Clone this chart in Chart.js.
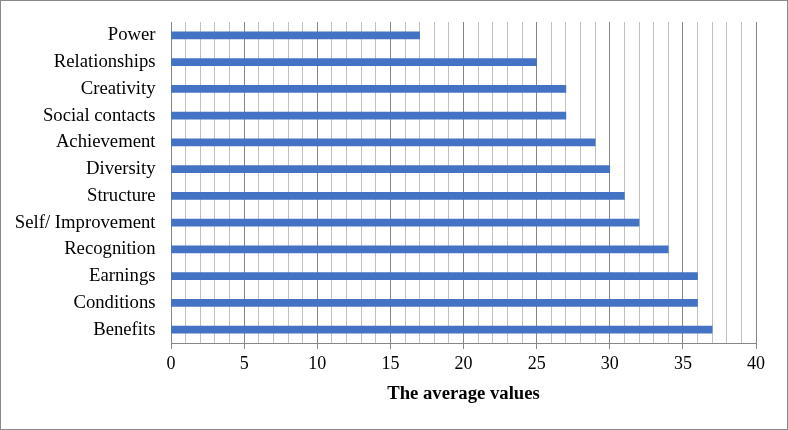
<!DOCTYPE html>
<html><head><meta charset="utf-8">
<script src="https://cdn.jsdelivr.net/npm/chart.js@4"></script>
<style>html,body{margin:0;padding:0;background:#fff}#wrap{width:788px;height:430px;position:relative}</style>
</head><body><div id="wrap"><canvas id="c" width="788" height="430"></canvas></div>
<script>
const categories = ["Power","Relationships","Creativity","Social contacts","Achievement","Diversity","Structure","Self/ Improvement","Recognition","Earnings","Conditions","Benefits"];
const values = [17,25,27,27,29,30,31,32,34,36,36,37];
const xMin = 0, xMax = 40, xStep = 1, labelEvery = 5;
const xTitle = "The average values";

const borderPlugin = {
  id:'outerBorder',
  beforeDraw(chart){
    const ctx = chart.ctx;
    ctx.save();
    ctx.fillStyle='#fff';ctx.fillRect(0,0,chart.width,chart.height);
    ctx.strokeStyle='#898989';ctx.lineWidth=1;
    ctx.strokeRect(0.5,0.5,chart.width-1,chart.height-1);
    ctx.restore();
  }
};
const fam = "'Liberation Serif','Times New Roman',serif";
const tickFont = {family:fam, size:18};
const catFont = {family:fam, size:18.7};
new Chart(document.getElementById('c'),{
  type:'bar',
  data:{labels:categories,datasets:[{data:values,backgroundColor:'#4472C4',barThickness:7}]},
  options:{
    indexAxis:'y',responsive:false,animation:false,
    layout:{padding:{top:22,right:32,left:0,bottom:0}},
    plugins:{legend:{display:false},tooltip:{enabled:false}},
    scales:{
      x:{min:xMin,max:xMax,
        afterFit(s){s.height=87;s.paddingLeft=0;s.paddingRight=0;},
        ticks:{stepSize:xStep,autoSkip:false,maxRotation:0,color:'#000',font:tickFont,padding:4,
          callback:(v)=> v%labelEvery===0 ? String(v) : ''},
        grid:{color:(c)=> c.tick && c.tick.value%labelEvery===0 ? '#868686':'#c0c0c0',
          tickColor:(c)=> c.tick && c.tick.value%labelEvery===0 ? '#868686':'rgba(0,0,0,0)',
          tickLength:6,lineWidth:1},
        border:{display:true,color:'#868686'},
        title:{display:true,text:xTitle,color:'#000',font:{family:fam,size:18.7,weight:'bold'},padding:{top:8,bottom:25}}
      },
      y:{afterFit(s){s.width=171;s.paddingTop=0;s.paddingBottom=0;},
        ticks:{color:'#000',font:catFont,padding:15.5,autoSkip:false},
        grid:{display:false,drawTicks:false},
        border:{display:true,color:'#868686'}
      }
    }
  },
  plugins:[borderPlugin]
});
</script></body></html>
